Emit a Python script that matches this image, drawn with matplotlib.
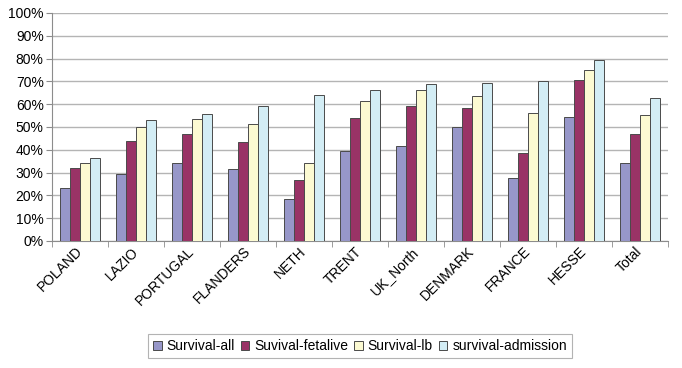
import matplotlib
matplotlib.use("Agg")
import matplotlib.pyplot as plt
import numpy as np
from matplotlib.ticker import FuncFormatter, MultipleLocator
from matplotlib.transforms import ScaledTranslation

categories = ["POLAND", "LAZIO", "PORTUGAL", "FLANDERS", "NETH", "TRENT",
              "UK_North", "DENMARK", "FRANCE", "HESSE", "Total"]
survival_all = [23.1, 29.4, 34.4, 31.6, 18.4, 39.6, 41.8, 49.9, 27.6, 54.6, 34.0]
survival_fetalive = [32.1, 44.0, 46.9, 43.5, 26.8, 54.1, 59.4, 58.5, 38.7, 70.4, 47.1]
survival_lb = [34.1, 50.1, 53.7, 51.5, 34.1, 61.2, 66.3, 63.8, 56.0, 74.9, 55.4]
survival_admission = [36.3, 53.2, 55.6, 59.4, 64.1, 66.3, 68.8, 69.1, 70.1, 79.4, 62.9]
series_names = ["Survival-all", "Suvival-fetalive", "Survival-lb", "survival-admission"]

plt.rcParams['font.family'] = ['Liberation Sans', 'DejaVu Sans']

fig = plt.figure(figsize=(6.82, 3.68), dpi=100)
ax = fig.add_axes([52/682, 1-241/368, (668-52)/682, (241-13)/368])

series = [survival_all, survival_fetalive, survival_lb, survival_admission]
colors = ["#9797C9", "#993366", "#FCFAD2", "#D3EDF5"]
x = np.arange(len(categories))
w = 0.18
for i, (vals, c, name) in enumerate(zip(series, colors, series_names)):
    ax.bar(x + (i - 1.5) * w, vals, w, color=c, edgecolor="#4a4a4a",
           linewidth=0.7, label=name, zorder=3)

ax.set_ylim(0, 100)
ax.set_xlim(-0.5, len(categories) - 0.5)
ax.yaxis.set_major_locator(MultipleLocator(10))
ax.yaxis.set_major_formatter(FuncFormatter(lambda v, p: f"{int(round(v))}%"))
ax.grid(axis='y', color="#b4b4b4", linewidth=1.0, zorder=0)
ax.set_axisbelow(True)

ax.set_xticks(x)
ax.set_xticklabels(categories, rotation=45, ha='right', va='center',
                   rotation_mode='anchor')
off = ScaledTranslation(-8/100, -6/100, fig.dpi_scale_trans)
for lab in ax.get_xticklabels():
    lab.set_transform(lab.get_transform() + off)
ax.set_xticks(np.arange(-0.5, len(categories)), minor=True)
ax.tick_params(axis='x', which='major', length=0, pad=6, labelsize=10)
ax.tick_params(axis='x', which='minor', length=4, color="#8c8c8c")
ax.tick_params(axis='y', length=4, color="#8c8c8c", labelsize=10, pad=2)

for s in ["top", "right"]:
    ax.spines[s].set_visible(False)
ax.spines["left"].set_color("#8c8c8c")
ax.spines["bottom"].set_color("#8c8c8c")

leg = fig.legend(loc='center', bbox_to_anchor=(360/682, 1-346/368), ncol=4,
                 fontsize=10, frameon=True, fancybox=False, handlelength=0.6,
                 handleheight=0.6, handletextpad=0.35, columnspacing=0.45,
                 borderpad=0.35)
leg.get_frame().set_edgecolor("#a0a0a0")
leg.get_frame().set_linewidth(0.8)

fig.savefig("out.png", dpi=100)
